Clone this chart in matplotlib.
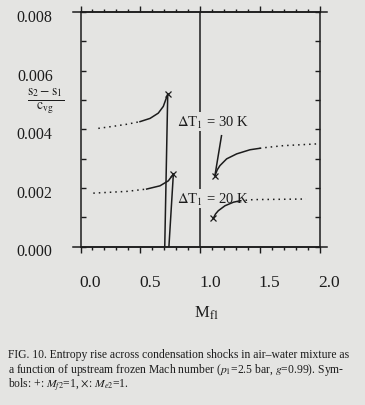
import matplotlib
matplotlib.use('Agg')
import matplotlib.pyplot as plt
import matplotlib.transforms as mtransforms

plt.rcParams['font.family'] = ['Liberation Serif', 'DejaVu Serif']
plt.rcParams['mathtext.fontset'] = 'stix'

# values
x30_left = [0.149, 0.274, 0.387, 0.498, 0.582, 0.651, 0.693, 0.730]
y30_left = [0.00403, 0.00410, 0.00417, 0.00426, 0.00437, 0.00455, 0.00478, 0.00520]
x30_drop = [0.730, 0.705]
y30_drop = [0.00520, 0.0]

x20_left = [0.107, 0.387, 0.554, 0.665, 0.735, 0.777]
y20_left = [0.00182, 0.00188, 0.00196, 0.00207, 0.00224, 0.00247]
x20_drop = [0.777, 0.740]
y20_drop = [0.00247, 0.0]

x30_right = [1.125, 1.145, 1.167, 1.223, 1.307, 1.418, 1.500, 1.558, 1.697, 1.977]
y30_right = [0.00242, 0.00262, 0.00276, 0.00299, 0.00316, 0.00330, 0.00335, 0.00338, 0.00344, 0.00350]
x30_steep = [1.125, 1.180]
y30_steep = [0.00242, 0.00378]

x20_right = [1.111, 1.130, 1.153, 1.209, 1.279, 1.335, 1.446, 1.887]
y20_right = [0.00096, 0.00111, 0.00122, 0.00139, 0.00151, 0.00156, 0.00160, 0.00162]

xticks = [0.0, 0.5, 1.0, 1.5, 2.0]
xticklabels = ['0.0', '0.5', '1.0', '1.5', '2.0']
yticks = [0.0, 0.002, 0.004, 0.006, 0.008]
yticklabels = ['0.000', '0.002', '0.004', '0.006', '0.008']

bg = '#e4e4e2'
ink = '#1c1c1c'

fig = plt.figure(figsize=(3.65, 4.06), dpi=100, facecolor=bg)
ax = fig.add_axes([80.5 / 365, 1 - 247.5 / 406, 239 / 365, 234.5 / 406])
ax.set_facecolor(bg)

dot = (0, (1, 2.6))
lw = 1.1

# 30 K, subsonic side
ax.plot(x30_left[:4], y30_left[:4], color=ink, lw=lw, ls=dot, zorder=3)
ax.plot(x30_left[3:], y30_left[3:], color=ink, lw=lw, zorder=3)
ax.plot(x30_drop, y30_drop, color=ink, lw=lw, zorder=3)
# 20 K, subsonic side
ax.plot(x20_left[:3], y20_left[:3], color=ink, lw=lw, ls=dot, zorder=3)
ax.plot(x20_left[2:], y20_left[2:], color=ink, lw=lw, zorder=3)
ax.plot(x20_drop, y20_drop, color=ink, lw=lw, zorder=3)
# 30 K, supersonic side
ax.plot(x30_right[:7], y30_right[:7], color=ink, lw=lw, zorder=3)
ax.plot(x30_right[6:], y30_right[6:], color=ink, lw=lw, ls=dot, zorder=3)
ax.plot(x30_steep, y30_steep, color=ink, lw=lw, zorder=3)
# 20 K, supersonic side
ax.plot(x20_right[:6], y20_right[:6], color=ink, lw=lw, zorder=3)
ax.plot(x20_right[5:], y20_right[5:], color=ink, lw=lw, ls=dot, zorder=3)

# x markers (M_e2 = 1)
ax.plot([x30_left[-1], x20_left[-1], x30_right[0], x20_right[0]],
        [y30_left[-1], y20_left[-1], y30_right[0], y20_right[0]],
        ls='none', marker='x', ms=4, mew=0.9, color=ink, zorder=4)

ax.axvline(1.0, color=ink, lw=1.1, zorder=1)

ax.text(0.808, 0.00413, r'$\Delta$T$_1$ = 30 K', fontsize=10.5, color=ink,
        va='baseline', ha='left', zorder=2, bbox=dict(fc=bg, ec='none', pad=0.8))
ax.text(0.808, 0.00150, r'$\Delta$T$_1$ = 20 K', fontsize=10.5, color=ink,
        va='baseline', ha='left', zorder=2, bbox=dict(fc=bg, ec='none', pad=0.8))

ax.set_xlim(0, 2.0)
ax.set_ylim(0, 0.008)

for s in ax.spines.values():
    s.set_color(ink)
    s.set_linewidth(1.1)

ax.set_xticks(xticks)
ax.set_xticklabels(xticklabels)
ax.set_xticks([i / 10 for i in range(21)], minor=True)
ax.set_yticks(yticks)
ax.set_yticklabels(yticklabels)
ax.set_yticks([i / 1000 for i in range(9)], minor=True)

ax.tick_params(axis='x', which='both', direction='out', top=True, bottom=True,
               color=ink, width=1.0, labelsize=12.5, labelcolor=ink, pad=15)
ax.tick_params(axis='x', which='major', length=4.5)
ax.tick_params(axis='x', which='minor', length=2.5)
ax.tick_params(axis='y', which='both', direction='in', left=True, right=True,
               length=3.5, color=ink, width=1.0, labelsize=11.5, labelcolor=ink, pad=20)

shift_x = mtransforms.ScaledTranslation(10 / 100, 0, fig.dpi_scale_trans)
for lab in ax.get_xticklabels():
    lab.set_transform(lab.get_transform() + shift_x)
shift_y = mtransforms.ScaledTranslation(0, -3 / 100, fig.dpi_scale_trans)
for lab in ax.get_yticklabels():
    lab.set_transform(lab.get_transform() + shift_y)

# spines run a little past the corners in the original
for yy in [0, 1]:
    ax.plot([-0.03, 1.03], [yy, yy], transform=ax.transAxes, color=ink,
            lw=1.1, clip_on=False)

fig.text(46 / 365, 1 - 101 / 406, r'$\frac{\mathrm{s_2 - s_1}}{\mathrm{c_{vg}}}$',
         fontsize=14, color=ink, ha='center', va='center')
fig.text(207 / 365, 1 - 313 / 406, r'M$_{\mathrm{f1}}$', fontsize=12, color=ink,
         ha='center', va='center')

cap = ['FIG. 10. Entropy rise across condensation shocks in air\u2013water mixture as',
       r'a function of upstream frozen Mach number ($p_1$=2.5 bar, $g$=0.99). Sym-',
       r'bols: +: $M_{f2}$=1, $\times$: $M_{e2}$=1.']
for i, line in enumerate(cap):
    fig.text(8 / 365, 1 - (358 + 15 * i) / 406, line, fontsize=8.4, color=ink,
             ha='left', va='baseline')

fig.savefig('out.png', dpi=100, facecolor=bg)
